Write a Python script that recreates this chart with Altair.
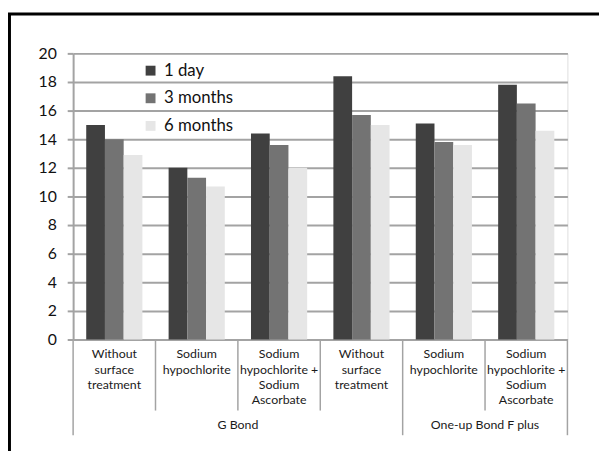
import altair as alt
import pandas as pd

# ---- data ----
cat_ids = ["c1", "c2", "c3", "c4", "c5", "c6"]
cat_labels = [
    "Without\nsurface\ntreatment",
    "Sodium\nhypochlorite",
    "Sodium\nhypochlorite +\nSodium\nAscorbate",
    "Without\nsurface\ntreatment",
    "Sodium\nhypochlorite",
    "Sodium\nhypochlorite +\nSodium\nAscorbate",
]
series = ["1 day", "3 months", "6 months"]
vals_1day = [15.0, 12.0, 14.4, 18.4, 15.1, 17.8]
vals_3m = [14.0, 11.3, 13.6, 15.7, 13.8, 16.5]
vals_6m = [12.9, 10.7, 12.0, 15.0, 13.6, 14.6]
group_labels = ["G Bond", "One-up Bond F plus"]
group_centers = ["c3", "c6"]          # label sits at the start of this category band
short_seps = ["c2", "c3", "c4", "c6"]  # category separators
long_seps = ["c1", "c5"]              # group separators
colors = ["#404040", "#737373", "#e6e6e6"]

W, H = 501, 290
FONT = "Lato"
GRID = "#a3a3a3"

rows = []
for s, vals in zip(series, [vals_1day, vals_3m, vals_6m]):
    for c, v in zip(cat_ids, vals):
        rows.append({"cid": c, "series": s, "value": v})
bars_df = pd.DataFrame(rows)
labels_df = pd.DataFrame({"cid": cat_ids, "label": cat_labels})
groups_df = pd.DataFrame({"cid": group_centers, "label": group_labels})
short_df = pd.DataFrame({"cid": short_seps})
long_df = pd.DataFrame({"cid": long_seps})
one_df = pd.DataFrame({"k": [0]})

xscale = alt.Scale(domain=cat_ids, paddingInner=0, paddingOuter=0)

bars = alt.Chart(bars_df).mark_bar().encode(
    x=alt.X("cid:N", scale=xscale, axis=None),
    xOffset=alt.XOffset("series:N", scale=alt.Scale(domain=series, paddingInner=0, paddingOuter=0.7)),
    y=alt.Y("value:Q", scale=alt.Scale(domain=[0, 20], nice=False),
            axis=alt.Axis(values=list(range(0, 21, 2)), title=None, grid=True,
                          gridColor=GRID, gridWidth=2, domainColor=GRID, domainWidth=2,
                          tickColor=GRID, tickWidth=2, tickSize=6, labelPadding=11,
                          labelFont=FONT, labelFontSize=16, labelColor="#111")),
    color=alt.Color("series:N", scale=alt.Scale(domain=series, range=colors),
                    legend=alt.Legend(title=None, orient="none", legendX=70, legendY=9,
                                      symbolType="square", symbolSize=100, symbolStrokeWidth=0,
                                      labelFont=FONT, labelFontSize=17, labelColor="#111",
                                      labelOffset=5, rowPadding=10, padding=0)),
)

cat_text = alt.Chart(labels_df).mark_text(
    lineBreak="\n", baseline="top", align="center", fontSize=12.5, font=FONT,
    lineHeight=15.5, color="#1a1a1a"
).encode(
    x=alt.X("cid:N", scale=xscale, axis=None),
    y=alt.value(H + 9),
    text="label:N",
)

grp_text = alt.Chart(groups_df).mark_text(
    baseline="middle", align="center", fontSize=12.5, font=FONT, color="#1a1a1a"
).encode(
    x=alt.X("cid:N", scale=xscale, axis=None, bandPosition=0),
    y=alt.value(H + 87),
    text="label:N",
)

short_rules = alt.Chart(short_df).mark_rule(color=GRID, strokeWidth=1.5).encode(
    x=alt.X("cid:N", scale=xscale, axis=None, bandPosition=0),
    y=alt.value(H),
    y2=alt.value(H + 72),
)

long_rules = alt.Chart(long_df).mark_rule(color=GRID, strokeWidth=1.5).encode(
    x=alt.X("cid:N", scale=xscale, axis=None, bandPosition=0),
    y=alt.value(H),
    y2=alt.value(H + 97),
)

end_rule = alt.Chart(one_df).mark_rule(color=GRID, strokeWidth=1.5).encode(
    x=alt.value(W),
    y=alt.value(H),
    y2=alt.value(H + 97),
)

frame = alt.Chart(one_df).mark_rect(fillOpacity=0, stroke="black", strokeWidth=3).encode(
    x=alt.value(-64.5),
    x2=alt.value(W + 60),
    y=alt.value(-40),
    y2=alt.value(H + 140),
)

chart = alt.layer(
    bars, cat_text, grp_text, short_rules, long_rules, end_rule, frame
).properties(
    width=W, height=H,
    autosize=alt.AutoSizeParams(type="none"),
    padding={"left": 66, "top": 43, "right": 32, "bottom": 110},
).configure_view(stroke=None).configure(background="white")

chart.save("out.html", embed_options={"renderer": "svg", "actions": False})
